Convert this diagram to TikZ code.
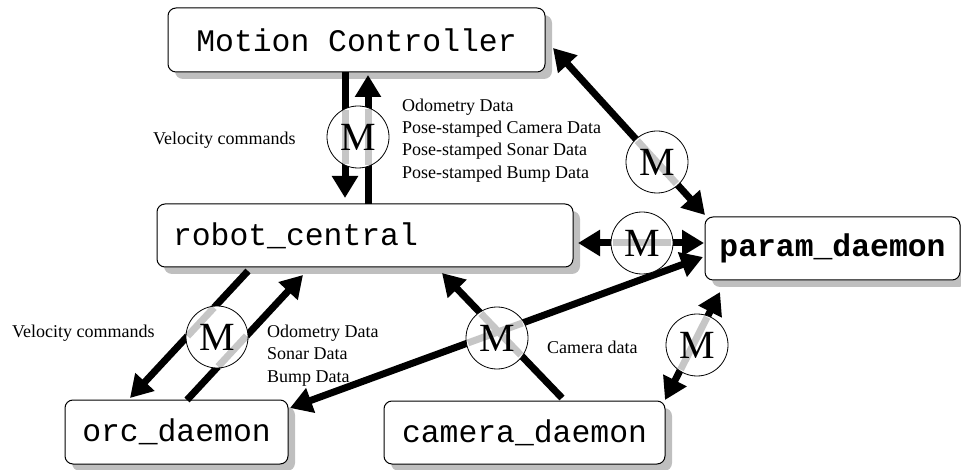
\documentclass[tikz,border=0pt]{standalone}
\usepackage{fontspec}
\setmainfont{Liberation Serif}
\newfontfamily\boxfont{Liberation Mono}
\usetikzlibrary{arrows.meta,shadows}
\begin{document}
\begin{tikzpicture}[x=1pt,y=-1pt,
  procbox/.style={draw, rounded corners=8pt, fill=white, line width=1pt,
    drop shadow={shadow xshift=7pt, shadow yshift=-7pt, fill=gray!50, opacity=1},
    font={\fontsize{31.4}{36}\boxfont}, inner sep=0pt},
  mcirc/.style={circle, draw, line width=0.8pt, minimum size=62pt, inner sep=0pt,
    font={\fontsize{40}{40}\selectfont}},
  mfill/.style={circle, fill=white, minimum size=62pt, inner sep=0pt},
  flowline/.style={line width=7pt},
  onehead/.style={-{Triangle[length=22pt,width=25pt]}},
  twoheads/.style={{Triangle[length=22pt,width=25pt]}-{Triangle[length=22pt,width=25pt]}},
  greyseg/.style={line width=7pt, draw=gray!45},
  lbl/.style={font={\fontsize{18}{22.3}\selectfont}, anchor=west, align=left, inner sep=0pt}
]
\useasboundingbox (0,0) rectangle (961,470);

% boxes
\node[procbox, minimum width=377pt, minimum height=64pt] (mc) at (356.5,40) {Motion Controller};
\node[procbox, minimum height=63pt, text width=384pt, inner xsep=16pt, align=left] (rc) at (365,235.5) {robot\_central};
\node[procbox, minimum width=255pt, minimum height=63pt, font={\fontsize{31.4}{36}\boxfont\bfseries}] (pd) at (832.5,248.5) {param\_daemon};
\node[procbox, minimum width=223pt, minimum height=64pt] (od) at (176.5,432) {orc\_daemon};
\node[procbox, minimum width=281pt, minimum height=63pt] (cd) at (524.5,432.5) {camera\_daemon};

% connector end points
\coordinate (a1s) at (345,72);  \coordinate (a1e) at (345,198);
\coordinate (a2s) at (368,204); \coordinate (a2e) at (368,75);
\coordinate (a3s) at (578,243); \coordinate (a3e) at (704,243);
\coordinate (a4s) at (553,48);  \coordinate (a4e) at (705,215);
\coordinate (a5s) at (248,271); \coordinate (a5e) at (130,398);
\coordinate (a6s) at (187,400); \coordinate (a6e) at (303,275);
\coordinate (a7s) at (562,398); \coordinate (a7e) at (442,273);
\coordinate (a8s) at (290,408); \coordinate (a8e) at (703,257);
\coordinate (a9s) at (665,400); \coordinate (a9e) at (720,292);

% connectors
\draw[flowline, onehead]  (a1s) -- (a1e);
\draw[flowline, onehead]  (a2s) -- (a2e);
\draw[flowline, twoheads] (a3s) -- (a3e);
\draw[flowline, twoheads] (a4s) -- (a4e);
\draw[flowline, onehead]  (a5s) -- (a5e);
\draw[flowline, onehead]  (a6s) -- (a6e);
\draw[flowline, onehead]  (a7s) -- (a7e);
\draw[flowline, twoheads] (a8s) -- (a8e);
\draw[flowline, twoheads] (a9s) -- (a9e);

% message circles: white interior
\node[mfill] (f1) at (358,137) {};
\node[mfill] (f2) at (217,337) {};
\node[mfill] (f3) at (497,338) {};
\node[mfill] (f4) at (642,243) {};
\node[mfill] (f5) at (697,345) {};
\node[mfill] (f6) at (657,162) {};

% grey parts of the connectors inside the circles
\draw[greyseg] (345,110) -- (345,164);
\draw[greyseg] (368,109) -- (368,165);
\draw[greyseg] (187.5,336.1) -- (214.0,307.6);
\draw[greyseg] (246.5,335.9) -- (218.1,366.5);
\draw[greyseg] (480.9,313.5) -- (520.8,355.1);
\draw[greyseg] (522.5,323.0) -- (468.0,342.9);
\draw[greyseg] (613,243) -- (671,243);
\draw[greyseg] (707.1,317.2) -- (680.6,369.6);
\draw[greyseg] (637.3,140.7) -- (676.4,183.6);

% circle outlines and labels
\node[mcirc] (m1) at (f1) {M};
\node[mcirc] (m2) at (f2) {M};
\node[mcirc] (m3) at (f3) {M};
\node[mcirc] (m4) at (f4) {M};
\node[mcirc] (m5) at (f5) {M};
\node[mcirc] (m6) at (f6) {M};

% labels
\node[lbl] (l1) at (153,140) {Velocity commands};
\node[lbl] (l2) at (402,140.5) {Odometry Data\\Pose-stamped Camera Data\\Pose-stamped Sonar Data\\Pose-stamped Bump Data};
\node[lbl] (l3) at (12,333) {Velocity commands};
\node[lbl] (l4) at (267,355.5) {Odometry Data\\Sonar Data\\Bump Data};
\node[lbl] (l5) at (547,347) {Camera data};
\end{tikzpicture}
\end{document}
